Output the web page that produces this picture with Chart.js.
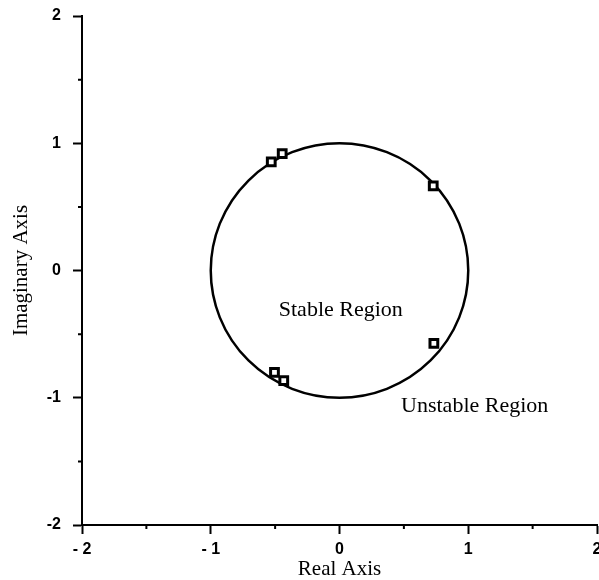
<!DOCTYPE html>
<html>
<head>
<meta charset="utf-8">
<script src="https://cdn.jsdelivr.net/npm/chart.js@4"></script>
<style>
html,body{margin:0;padding:0;background:#fff;}
#wrap{width:599px;height:580px;}
</style>
</head>
<body>
<div id="wrap"><canvas id="c" width="599" height="580"></canvas></div>
<script>
// ---- data ----
const poleReal = [-0.53, -0.445, 0.728, 0.733, -0.505, -0.433];
const poleImag = [0.854, 0.919, 0.665, -0.573, -0.80, -0.866];
const unitCircleRadius = 1;
const xTickValues = [-2, -1, 0, 1, 2];
const xTickLabels = ['- 2', '- 1', '0', '1', '2'];
const yTickValues = [-2, -1, 0, 1, 2];
const yTickLabels = ['-2', '-1', '0', '1', '2'];
const annotationTexts = ['Stable Region', 'Unstable Region'];
const annotationX = [0.01, 1.05];
const annotationY = [-0.31, -1.07];

const points = poleReal.map((x, i) => ({x: x, y: poleImag[i]}));

function labelFor(values, labels, v) {
  const i = values.findIndex(t => Math.abs(t - v) < 1e-9);
  return i >= 0 ? labels[i] : '';
}
function isMajor(v) { return Math.abs(v - Math.round(v)) < 1e-9; }

const decorPlugin = {
  id: 'decor',
  beforeDatasetsDraw(chart) {
    const {ctx, scales: {x, y}} = chart;
    // unit circle
    const cx = x.getPixelForValue(0), cy = y.getPixelForValue(0);
    const rx = x.getPixelForValue(unitCircleRadius) - cx;
    const ry = cy - y.getPixelForValue(unitCircleRadius);
    ctx.save();
    ctx.beginPath();
    ctx.ellipse(cx, cy, rx, ry, 0, 0, Math.PI * 2);
    ctx.lineWidth = 2.5;
    ctx.strokeStyle = '#000';
    ctx.stroke();
    // minor ticks
    ctx.lineWidth = 2;
    ctx.beginPath();
    x.ticks.forEach(t => {
      if (!isMajor(t.value)) {
        const px = x.getPixelForValue(t.value);
        ctx.moveTo(px, x.top); ctx.lineTo(px, x.top + 4);
      }
    });
    y.ticks.forEach(t => {
      if (!isMajor(t.value)) {
        const py = y.getPixelForValue(t.value);
        ctx.moveTo(y.right, py); ctx.lineTo(y.right - 4, py);
      }
    });
    ctx.stroke();
    // annotations
    ctx.fillStyle = '#000';
    ctx.font = '22px "Liberation Serif", "Times New Roman", serif';
    ctx.textAlign = 'center';
    ctx.textBaseline = 'middle';
    annotationTexts.forEach((t, i) => {
      ctx.fillText(t, x.getPixelForValue(annotationX[i]), y.getPixelForValue(annotationY[i]));
    });
    ctx.restore();
  }
};

const tickFont = {family: '"Liberation Sans", Arial, sans-serif', size: 16, weight: 'bold'};
const titleFont = {family: '"Liberation Serif", "Times New Roman", serif', size: 21, lineHeight: 1.0};

new Chart(document.getElementById('c'), {
  type: 'scatter',
  data: {
    datasets: [
      {
        data: points,
        pointStyle: 'rect',
        pointRadius: 5.5,
        pointBorderWidth: 3,
        pointBorderColor: '#000',
        pointBackgroundColor: '#fff',
        showLine: false,
        clip: false
      },
      {
        data: points,
        pointStyle: 'rect',
        pointRadius: 1.3,
        pointBorderWidth: 0,
        pointBackgroundColor: '#000',
        showLine: false,
        clip: false
      }
    ]
  },
  options: {
    responsive: false,
    animation: false,
    events: [],
    layout: {autoPadding: false, padding: {top: 16, right: 2, bottom: 0, left: 0}},
    plugins: {legend: {display: false}, tooltip: {enabled: false}},
    scales: {
      x: {
        type: 'linear', min: -2, max: 2,
        ticks: {
          stepSize: 0.5, autoSkip: false, maxRotation: 0, color: '#000', font: tickFont, padding: 6,
          callback: v => labelFor(xTickValues, xTickLabels, v)
        },
        grid: {
          drawOnChartArea: false, drawTicks: true, tickLength: 9, tickWidth: 2,
          tickColor: c => isMajor(c.tick.value) ? '#000' : 'rgba(0,0,0,0)'
        },
        border: {display: true, color: '#000', width: 2},
        title: {display: true, text: 'Real Axis', color: '#000', font: titleFont, padding: {top: 0, bottom: 0}},
        afterFit: s => { s.height = 55; s.paddingLeft = 0; s.paddingRight = 0; }
      },
      y: {
        type: 'linear', min: -2, max: 2,
        ticks: {
          stepSize: 0.5, autoSkip: false, color: '#000', font: tickFont, padding: 12,
          callback: v => labelFor(yTickValues, yTickLabels, v)
        },
        grid: {
          drawOnChartArea: false, drawTicks: true, tickLength: 9, tickWidth: 2,
          tickColor: c => isMajor(c.tick.value) ? '#000' : 'rgba(0,0,0,0)'
        },
        border: {display: true, color: '#000', width: 2},
        title: {display: true, text: 'Imaginary Axis', color: '#000', font: titleFont, padding: {top: 11, bottom: 0}},
        afterFit: s => { s.width = 82; s.paddingTop = 0; s.paddingBottom = 0; }
      }
    }
  },
  plugins: [decorPlugin]
});
</script>
</body>
</html>
